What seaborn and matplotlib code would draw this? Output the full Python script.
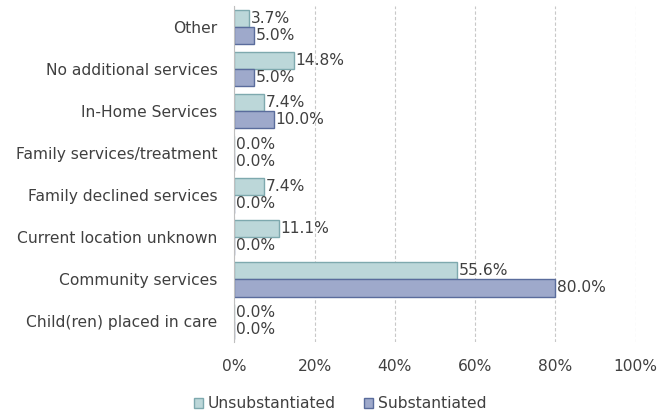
import pandas as pd
import seaborn as sns
import matplotlib.pyplot as plt
from matplotlib.patches import Patch
from matplotlib.ticker import PercentFormatter

# data
categories = [
    "Other",
    "No additional services",
    "In-Home Services",
    "Family services/treatment",
    "Family declined services",
    "Current location unknown",
    "Community services",
    "Child(ren) placed in care",
]
unsubstantiated = [3.7, 14.8, 7.4, 0.0, 7.4, 11.1, 55.6, 0.0]
substantiated = [5.0, 5.0, 10.0, 0.0, 0.0, 0.0, 80.0, 0.0]
series = ["Unsubstantiated", "Substantiated"]

fill = {"Unsubstantiated": "#bcd7d9", "Substantiated": "#9ea9cb"}
edge = {"Unsubstantiated": "#7ea9ae", "Substantiated": "#5a6c9c"}

df = pd.DataFrame({
    "category": categories * 2,
    "value": unsubstantiated + substantiated,
    "series": [series[0]] * len(categories) + [series[1]] * len(categories),
})

sns.set_style("white")
plt.rcParams["font.family"] = ["DejaVu Sans"]
FS = 11.2

fig, ax = plt.subplots(figsize=(6.58, 4.15), dpi=100)
fig.subplots_adjust(left=0.356, right=0.966, top=0.985, bottom=0.175)

sns.barplot(data=df, y="category", x="value", hue="series", order=categories,
            hue_order=series, palette=fill, saturation=1, orient="h",
            width=0.82, legend=False, ax=ax)

for cont, name in zip(ax.containers, series):
    for bar in cont:
        bar.set_edgecolor(edge[name])
        bar.set_linewidth(1.0)
    ax.bar_label(cont, labels=[f"{v:.1f}%" for v in cont.datavalues],
                 padding=1, fontsize=FS, color="#404040")

ax.set_xlim(0, 100)
ax.set_xticks(range(0, 101, 20))
ax.xaxis.set_major_formatter(PercentFormatter(decimals=0))
ax.grid(axis="x", color="#c8c8c8", linestyle=(0, (3, 2)), linewidth=0.8)
ax.set_axisbelow(True)
ax.set_xlabel("")
ax.set_ylabel("")
for s in ["top", "right", "bottom"]:
    ax.spines[s].set_visible(False)
ax.spines["left"].set_color("#bfbfbf")
ax.tick_params(axis="both", length=0, labelsize=FS, colors="#404040", pad=12)

handles = [Patch(facecolor=fill[s], edgecolor=edge[s], label=s) for s in series]
fig.legend(handles=handles, loc="lower center", ncol=2, frameon=False,
           bbox_to_anchor=(0.517, -0.025), fontsize=FS, handlelength=0.6,
           handleheight=0.6, handletextpad=0.3, columnspacing=1.8,
           labelcolor="#404040")

fig.savefig("out.png", dpi=100)
